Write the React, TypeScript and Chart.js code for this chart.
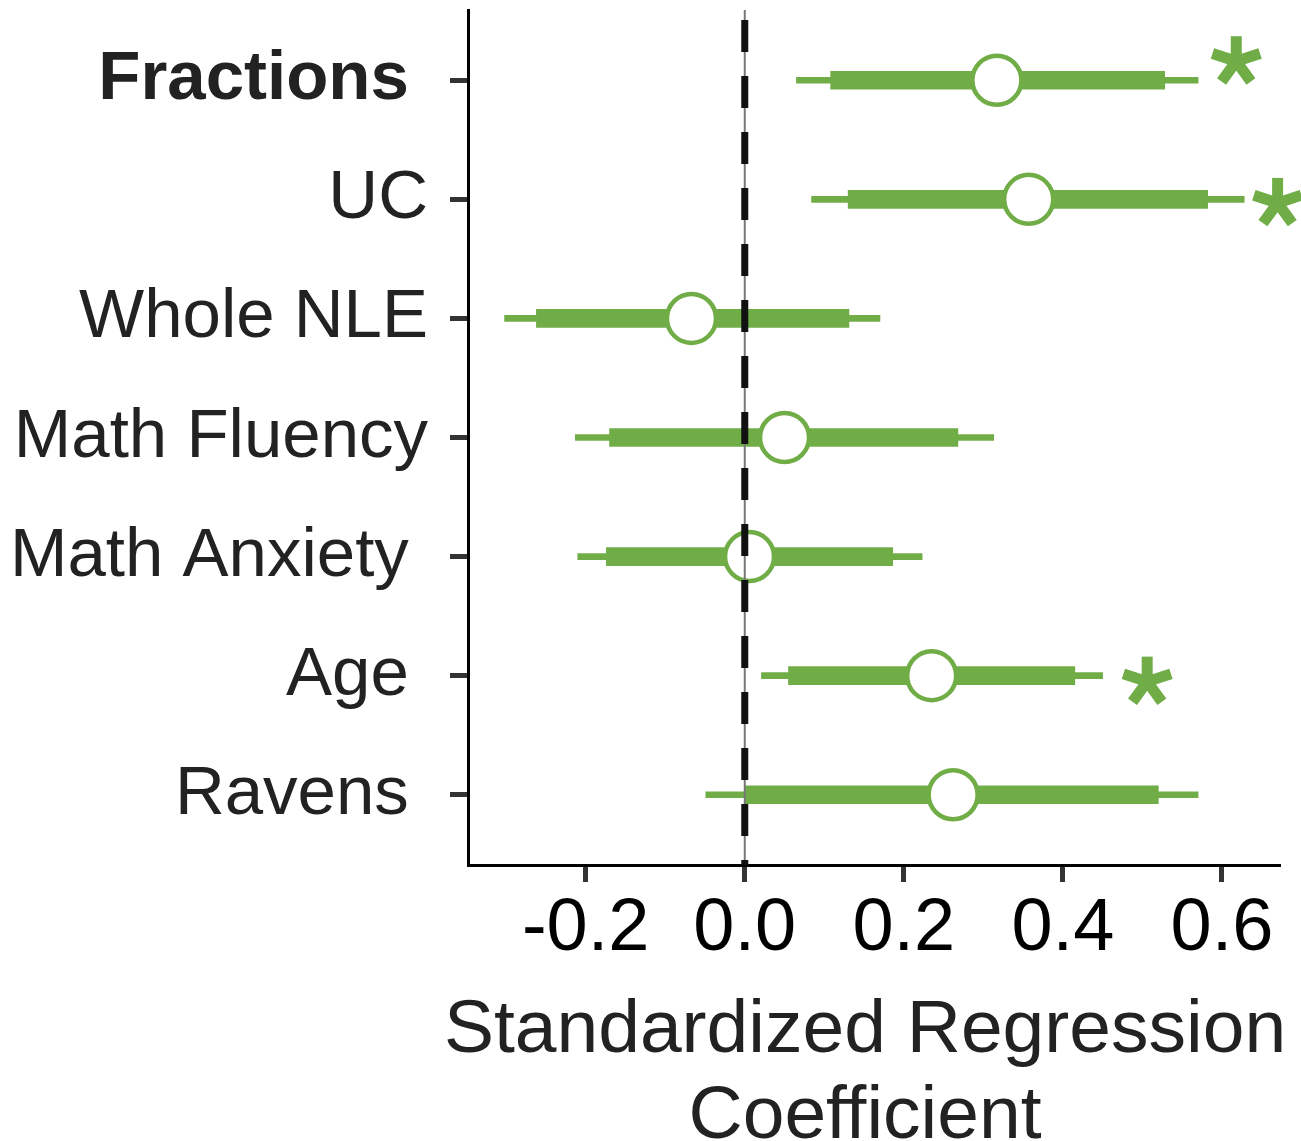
import React, { useEffect, useRef } from 'react';
import { Chart, registerables } from 'chart.js';

Chart.register(...registerables);

// ---- data ----
const categories = ['Fractions ', 'UC', 'Whole NLE', 'Math Fluency', 'Math Anxiety ', 'Age ', 'Ravens '];
const estimates = [0.317, 0.357, -0.067, 0.05, 0.006, 0.235, 0.262];
const innerLow = [0.108, 0.13, -0.262, -0.17, -0.174, 0.055, 0.0];
const innerHigh = [0.528, 0.582, 0.131, 0.268, 0.186, 0.415, 0.52];
const outerLow = [0.065, 0.084, -0.302, -0.213, -0.21, 0.021, -0.049];
const outerHigh = [0.57, 0.628, 0.17, 0.313, 0.223, 0.45, 0.57];
const starCategory = [0, 1, 5];
const starX = [0.618, 0.67, 0.506];
const starShift = [-0.16, 0.03, 0.05];
const xTicks = [-0.2, 0, 0.2, 0.4, 0.6];
const xTitle = ['Standardized Regression', 'Coefficient'];

const GREEN = '#70AD47';
const FONT = "'Liberation Sans', Arial, Helvetica, sans-serif";

const zeroLinePlugin = {
  id: 'zeroLine',
  afterDatasetsDraw(chart: any) {
    const { ctx, chartArea, scales } = chart;
    const x = scales.x.getPixelForValue(0);
    ctx.save();
    ctx.strokeStyle = '#777';
    ctx.lineWidth = 2;
    ctx.beginPath();
    ctx.moveTo(x, chartArea.top);
    ctx.lineTo(x, chartArea.bottom);
    ctx.stroke();
    ctx.strokeStyle = '#111';
    ctx.lineWidth = 7;
    ctx.setLineDash([32, 24]);
    ctx.lineDashOffset = 46;
    ctx.beginPath();
    ctx.moveTo(x, chartArea.top);
    ctx.lineTo(x, chartArea.bottom);
    ctx.stroke();
    ctx.restore();
  },
};

const starPlugin = {
  id: 'stars',
  afterDraw(chart: any) {
    const { ctx, scales } = chart;
    ctx.save();
    ctx.strokeStyle = GREEN;
    ctx.lineWidth = 11;
    ctx.lineCap = 'butt';
    const L = 25;
    starCategory.forEach((c, i) => {
      const cx = scales.x.getPixelForValue(starX[i]);
      const cy = scales.y.getPixelForValue(c + starShift[i]);
      for (let k = 0; k < 5; k++) {
        const a = (-90 + 72 * k) * Math.PI / 180;
        ctx.beginPath();
        ctx.moveTo(cx, cy);
        ctx.lineTo(cx + L * Math.cos(a), cy + L * Math.sin(a));
        ctx.stroke();
      }
    });
    ctx.restore();
  },
};

// x-axis title drawn without Chart.js's maxWidth squeeze (the title is wider than the plot)
const axisTitlePlugin = {
  id: 'axisTitle',
  afterDraw(chart: any) {
    const { ctx, chartArea } = chart;
    const cx = (chartArea.left + chartArea.right) / 2 - 9;
    ctx.save();
    ctx.fillStyle = '#222';
    ctx.font = `75px ${FONT}`;
    ctx.textAlign = 'center';
    ctx.textBaseline = 'alphabetic';
    xTitle.forEach((line, i) => {
      ctx.fillText(line, cx, chartArea.bottom + 187 + i * 86);
    });
    ctx.restore();
  },
};

export default function App() {
  const ref = useRef<HTMLCanvasElement | null>(null);

  useEffect(() => {
    document.body.style.margin = '0';
    const canvas = ref.current;
    if (!canvas) return;

    const chart = new Chart(canvas, {
      type: 'bar',
      data: {
        datasets: [
          {
            type: 'scatter',
            order: 0,
            data: estimates.map((v, i) => ({ x: v, y: i })),
            pointRadius: 24.5,
            pointHoverRadius: 24.5,
            pointBorderWidth: 4.5,
            pointHoverBorderWidth: 4.5,
            pointBackgroundColor: '#ffffff',
            pointBorderColor: GREEN,
            showLine: false,
          } as any,
          {
            type: 'bar',
            order: 1,
            indexAxis: 'y',
            grouped: false,
            barThickness: 18,
            maxBarThickness: 18,
            backgroundColor: GREEN,
            borderWidth: 0,
            data: innerLow.map((v, i) => ({ x: [v, innerHigh[i]], y: i })),
          } as any,
          {
            type: 'bar',
            order: 2,
            indexAxis: 'y',
            grouped: false,
            barThickness: 6,
            maxBarThickness: 6,
            backgroundColor: GREEN,
            borderWidth: 0,
            data: outerLow.map((v, i) => ({ x: [v, outerHigh[i]], y: i })),
          } as any,
        ],
      },
      options: {
        responsive: false,
        animation: false,
        devicePixelRatio: 1,
        layout: { autoPadding: false, padding: { top: 10, right: 21, left: 0, bottom: 0 } },
        plugins: { legend: { display: false }, tooltip: { enabled: false } },
        scales: {
          x: {
            type: 'linear',
            offset: false,
            min: -0.348,
            max: 0.673,
            afterBuildTicks: (scale: any) => {
              scale.ticks = xTicks.map((v) => ({ value: v }));
            },
            afterFit: (scale: any) => {
              scale.height = 276;
              scale.paddingLeft = 0;
              scale.paddingRight = 0;
            },
            border: { display: true, color: '#000', width: 3 },
            grid: {
              display: true,
              offset: false,
              drawOnChartArea: false,
              drawTicks: true,
              tickLength: 17,
              tickWidth: 5,
              tickColor: '#333',
            },
            ticks: {
              autoSkip: false,
              maxRotation: 0,
              padding: 3,
              color: '#000',
              font: { family: FONT, size: 74 },
              callback: (v: any) => Number(v).toFixed(1),
            },
            title: { display: false },
          },
          y: {
            type: 'linear',
            offset: false,
            reverse: true,
            min: -0.59,
            max: 6.59,
            afterBuildTicks: (scale: any) => {
              scale.ticks = categories.map((_, i) => ({ value: i }));
            },
            afterFit: (scale: any) => {
              scale.width = 468;
              scale.paddingTop = 0;
              scale.paddingBottom = 0;
            },
            border: { display: true, color: '#000', width: 3 },
            grid: {
              display: true,
              offset: false,
              drawOnChartArea: false,
              drawTicks: true,
              tickLength: 18,
              tickWidth: 5,
              tickColor: '#333',
            },
            ticks: {
              autoSkip: false,
              padding: 22,
              color: '#222',
              font: (ctx: any) => ({
                family: FONT,
                size: 69,
                weight: ctx.index === 0 ? 'bold' : 'normal',
              }),
              callback: (v: any) => categories[Math.round(Number(v))] ?? '',
            },
          },
        },
      },
      plugins: [zeroLinePlugin, starPlugin, axisTitlePlugin],
    });

    return () => chart.destroy();
  }, []);

  return <canvas ref={ref} width={1301} height={1141} style={{ display: 'block' }} />;
}
